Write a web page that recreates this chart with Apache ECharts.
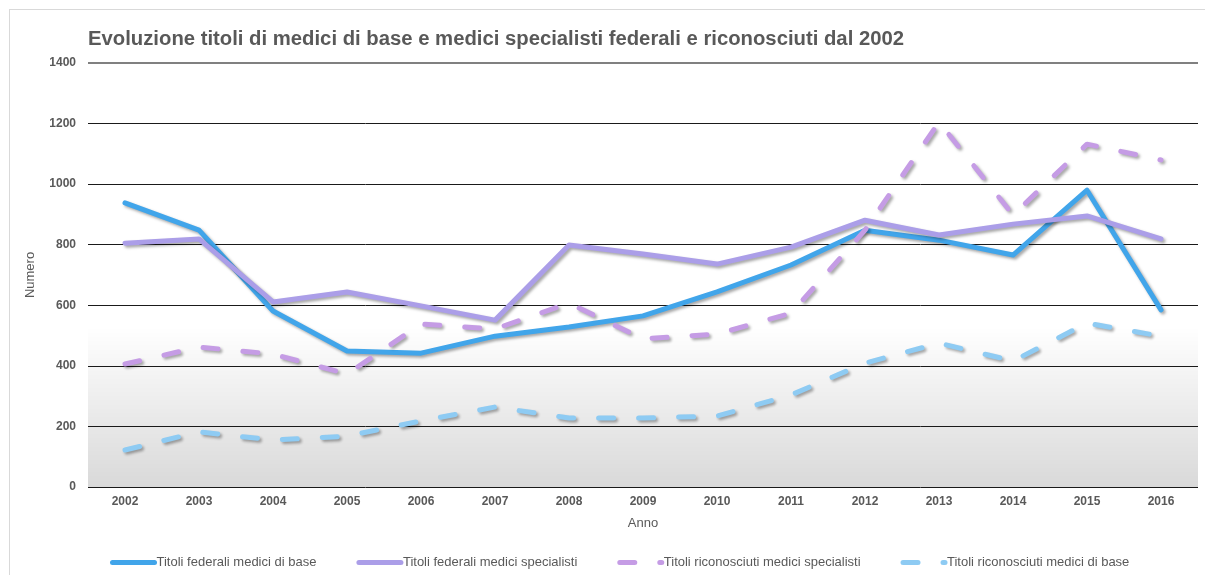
<!DOCTYPE html>
<html>
<head>
<meta charset="utf-8">
<script src="https://cdn.jsdelivr.net/npm/echarts@6/dist/echarts.min.js"></script>
<style>
  html, body { margin: 0; padding: 0; background: #fff; }
  #main { width: 1205px; height: 575px; position: relative; }
  .frame { position: absolute; left: 9px; top: 9px; width: 1210px; height: 580px; border: 1px solid #d9d9d9; box-sizing: border-box; pointer-events: none; }
</style>
</head>
<body>
<div id="main"></div>
<div class="frame"></div>
<script>
// anni
const years = ["2002", "2003", "2004", "2005", "2006", "2007", "2008", "2009", "2010", "2011", "2012", "2013", "2014", "2015", "2016"];
// Titoli federali medici di base
const fedBase = [938, 848, 581, 449, 442, 498, 528, 565, 644, 733, 848, 815, 766, 980, 585];
// Titoli federali medici specialisti
const fedSpec = [805, 819, 611, 644, 598, 551, 799, 769, 736, 792, 881, 832, 868, 895, 819];
// Titoli riconosciuti medici specialisti
const ricSpec = [406, 462, 439, 373, 538, 522, 607, 489, 505, 574, 848, 1205, 898, 1132, 1080];
// Titoli riconosciuti medici di base
const ricBase = [122, 182, 155, 168, 218, 264, 228, 228, 234, 304, 409, 475, 416, 541, 498];
const yTicks = [0, 200, 400, 600, 800, 1000, 1200, 1400];

const shadow = {
  shadowColor: "rgba(0,0,0,0.35)",
  shadowBlur: 3,
  shadowOffsetX: 2,
  shadowOffsetY: 2,
};

function lineSeries(name, data, color, dashed) {
  return {
    name: name,
    type: "line",
    data: data,
    symbol: "none",
    smooth: false,
    lineStyle: Object.assign(
      {
        color: color,
        width: 5,
        type: dashed ? [15, 25] : "solid",
        cap: "round",
        join: "round",
      },
      shadow
    ),
    itemStyle: { color: color },
  };
}

let myChart = echarts.init(document.getElementById("main"));
let series = [
  lineSeries("Titoli federali medici di base", fedBase, "#41a5ea", false),
  lineSeries("Titoli federali medici specialisti", fedSpec, "#ab9ee8", false),
  lineSeries("Titoli riconosciuti medici specialisti", ricSpec, "#c59ce5", true),
  lineSeries("Titoli riconosciuti medici di base", ricBase, "#8ecbf3", true),
];
// sfondo sfumato in basso
series[0].markArea = {
  silent: true,
  z: -1,
  itemStyle: {
    color: new echarts.graphic.LinearGradient(0, 0, 0, 1, [
      { offset: 0, color: "rgba(0,0,0,0.0)" },
      { offset: 1, color: "rgba(0,0,0,0.15)" },
    ]),
  },
  data: [[{ yAxis: 0 }, { yAxis: 530 }]],
};
// linea superiore grigia a 1400
series[0].markLine = {
  silent: true,
  symbol: "none",
  label: { show: false },
  lineStyle: { color: "#808080", width: 2, type: "solid" },
  data: [{ yAxis: yTicks[yTicks.length - 1] }],
};

let option = {
  animation: false,
  textStyle: { fontFamily: "Liberation Sans, Arial, sans-serif" },
  title: {
    text: "Evoluzione titoli di medici di base e medici specialisti federali e riconosciuti dal 2002",
    left: 83,
    top: 24,
    textStyle: { fontSize: 20.3, fontWeight: "bold", color: "#595959" },
  },
  legend: {
    left: 105,
    top: 551,
    itemWidth: 42,
    itemHeight: 6,
    itemGap: 40,
    itemStyle: { opacity: 0 },
    lineStyle: { width: 5, cap: "round", shadowBlur: 0, shadowOffsetX: 0, shadowOffsetY: 0 },
    textStyle: { fontSize: 13, color: "#595959", padding: [0, 0, 0, -3] },
  },
  grid: {
    left: 88,
    right: 7,
    top: 63,
    bottom: 88,
    containLabel: false,
  },
  xAxis: {
    type: "category",
    data: years,
    boundaryGap: true,
    name: "Anno",
    nameLocation: "middle",
    nameGap: 30,
    nameMoveOverlap: false,
    nameTextStyle: { fontSize: 13, color: "#595959" },
    axisLine: { show: false },
    axisTick: { show: false },
    axisLabel: { fontSize: 12, fontWeight: "bold", color: "#595959", margin: 9 },
  },
  yAxis: {
    type: "value",
    min: yTicks[0],
    max: yTicks[yTicks.length - 1],
    interval: 200,
    name: "Numero",
    nameLocation: "middle",
    nameGap: 51,
    nameMoveOverlap: false,
    nameTextStyle: { fontSize: 13, color: "#595959" },
    axisLine: { show: false },
    axisTick: { show: false },
    axisLabel: {
      fontSize: 12,
      fontWeight: "bold",
      color: "#595959",
      margin: 12,
      formatter: (v) => String(v),
    },
    splitLine: { lineStyle: { color: "#1a1a1a", width: 1 } },
  },
  series: series,
};
myChart.setOption(option);
</script>
</body>
</html>
